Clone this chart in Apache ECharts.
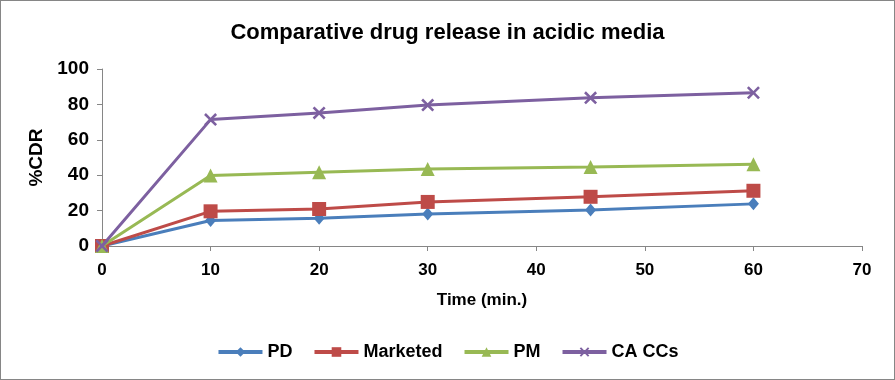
<!DOCTYPE html>
<html><head><meta charset="utf-8">
<script src="https://cdn.jsdelivr.net/npm/echarts@6/dist/echarts.min.js"></script>
<style>
html,body{margin:0;padding:0;background:#fff;}
#frame{position:absolute;left:0;top:0;width:893px;height:378px;border:1px solid #868686;}
#c{width:893px;height:378px;}
</style></head>
<body><div id="frame"><div id="c"></div></div>
<script>
const times = [0, 10, 20, 30, 45, 60];
const pd = [0, 14.4, 15.7, 18.1, 20.4, 23.8];
const marketed = [0, 19.6, 20.9, 24.9, 27.8, 31.2];
const pm = [0, 39.8, 41.7, 43.5, 44.7, 46.2];
const caccs = [0, 71.4, 75.2, 79.6, 83.7, 86.6];
const seriesNames = ['PD', 'Marketed', 'PM', 'CA CCs'];
const xTicks = [0, 10, 20, 30, 40, 50, 60, 70];
const yTicks = [0, 20, 40, 60, 80, 100];

const colors = ['#4A7EBB', '#BE4B48', '#98B954', '#7D60A0'];
const symbols = ['diamond', 'rect', 'triangle',
  'path://M0,1.4L1.4,0L5,3.6L8.6,0L10,1.4L6.4,5L10,8.6L8.6,10L5,6.4L1.4,10L0,8.6L3.6,5Z'];
const sizes = [[11, 13], 14, 14, 13];
const values = [pd, marketed, pm, caccs];

const chart = echarts.init(document.getElementById('c'));
const font = 'Liberation Sans, Arial, sans-serif';
chart.setOption({
  animation: false,
  color: colors,
  title: {
    text: 'Comparative drug release in acidic media',
    left: 'center', top: 16,
    textStyle: {fontFamily: font, fontSize: 22, fontWeight: 'bold', color: '#000'}
  },
  grid: {left: 101, right: 32, top: 68, bottom: 133},
  legend: {
    bottom: 13, left: 'center', itemWidth: 44, itemHeight: 12, itemGap: 20,
    lineStyle: {width: 4},
    textStyle: {fontFamily: font, fontSize: 18, fontWeight: 'bold', color: '#000'},
    data: seriesNames
  },
  xAxis: {
    type: 'value', min: xTicks[0], max: xTicks[xTicks.length - 1], interval: 10,
    name: 'Time (min.)', nameLocation: 'middle', nameGap: 46,
    nameTextStyle: {fontFamily: font, fontSize: 17, fontWeight: 'bold', color: '#000'},
    axisLine: {lineStyle: {color: '#868686', width: 1}},
    axisTick: {show: true, length: 5, lineStyle: {color: '#868686'}},
    axisLabel: {fontFamily: font, fontSize: 17, fontWeight: 'bold', color: '#000', margin: 16},
    splitLine: {show: false}
  },
  yAxis: {
    type: 'value', min: yTicks[0], max: yTicks[yTicks.length - 1], interval: 20,
    name: '%CDR', nameLocation: 'middle', nameGap: 50, nameRotate: 90,
    nameTextStyle: {fontFamily: font, fontSize: 19, fontWeight: 'bold', color: '#000'},
    axisLine: {show: true, lineStyle: {color: '#868686', width: 1}},
    axisTick: {show: true, length: 5, lineStyle: {color: '#868686'}},
    axisLabel: {fontFamily: font, fontSize: 19, fontWeight: 'bold', color: '#000', margin: 13},
    splitLine: {show: false}
  },
  series: seriesNames.map((n, i) => ({
    name: n, type: 'line',
    data: times.map((t, j) => [t, values[i][j]]),
    symbol: symbols[i], symbolSize: sizes[i], showSymbol: true,
    lineStyle: {width: 3, color: colors[i]},
    itemStyle: {color: colors[i]},
    z: 2 + i
  }))
});
</script></body></html>
